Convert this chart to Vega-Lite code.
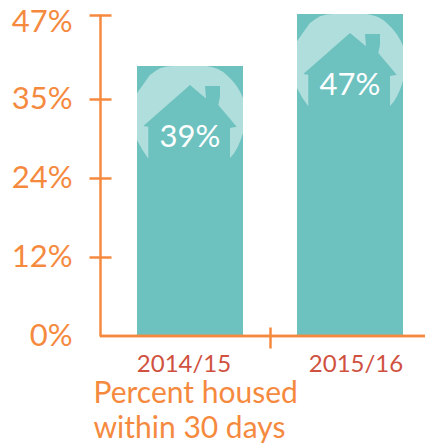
{"$schema":"https://vega.github.io/schema/vega-lite/v6.json","autosize":{"type":"none"},"padding":{"left":100,"top":14,"right":0,"bottom":109},"width":325,"height":322,"background":"white","view":{"stroke":null},"data":{"values":[{"period":"2014/15","value":39.4,"label":"39%"},{"period":"2015/16","value":47,"label":"47%"}]},"resolve":{"axis":{"x":"independent","y":"independent"}},"layer":[{"mark":{"type":"bar","color":"#6DC2BF"},"encoding":{"x":{"field":"period","type":"nominal","sort":null,"scale":{"type":"band","range":[10,330],"paddingInner":0.3375,"paddingOuter":0.16875},"axis":{"orient":"bottom","domain":false,"ticks":false,"labelAngle":0,"labelFont":"Lato","labelFontSize":24,"labelColor":"#D0513F","labelPadding":16,"labelBaseline":"top","labelOffset":{"condition":{"test":"datum.value=='2014/15'","value":-6},"value":6},"title":["Percent housed","within 30 days"],"titleFont":"Lato","titleFontSize":30,"titleFontWeight":"normal","titleColor":"#F58A3F","titleAlign":"left","titleAnchor":"start","titleBaseline":"alphabetic","titleLineHeight":35,"titleX":-7,"titleY":66}},"y":{"field":"value","type":"quantitative","scale":{"domain":[0,47],"nice":false,"zero":true},"axis":{"orient":"left","title":null,"grid":false,"domain":true,"domainColor":"#F58A3F","domainWidth":2.5,"ticks":false,"values":[0,11.55,23.1,34.6,46.85],"labelExpr":"ceil(datum.value)+'%'","labelFont":"Lato","labelFontSize":31,"labelColor":"#F58A3F","labelPadding":28,"labelFlush":false,"labelOverlap":false,"labelOffset":{"condition":[{"test":"datum.value>46","value":7},{"test":"datum.value>0","value":1}],"value":0}}}}},{"mark":{"type":"point","filled":true,"color":"#B0DEDC","opacity":1,"size":11236,"shape":"M-0.566 0.043 Q-0.45 0 -0.315 0 L0.315 0 Q0.55 0.03 0.692 0.17 Q0.9 0.35 1 0.604 L1 1.264 Q0.9 1.6 0.755 1.736 L0.755 1.17 L0.881 1.145 L0.534 0.736 L0.566 0.58 L0.566 0.377 L0.283 0.377 L0.302 0.61 L0 0.358 L-0.881 1.132 L-0.787 1.145 L-0.787 1.742 Q-0.9 1.6 -1 1.396 L-1 0.515 Q-0.85 0.3 -0.755 0.17 Q-0.65 0.09 -0.566 0.043 Z"},"encoding":{"x":{"field":"period","type":"nominal","sort":null,"axis":{"orient":"bottom","values":["2015/16"],"labels":false,"domain":false,"ticks":true,"tickColor":"#F58A3F","tickWidth":2.5,"tickSize":21,"tickOffset":-80,"offset":-9,"title":null}},"y":{"field":"value","type":"quantitative","axis":{"orient":"left","values":[11.55,23.1,34.6,46.85],"labels":false,"domain":false,"ticks":true,"tickColor":"#F58A3F","tickWidth":2.5,"tickSize":22,"offset":-11,"title":null,"grid":false}}}},{"mark":{"type":"rule","color":"#F58A3F","strokeWidth":2.5},"encoding":{"y":{"datum":0,"axis":null}}},{"mark":{"type":"text","color":"white","font":"Lato","fontSize":31,"baseline":"middle","dy":72},"encoding":{"x":{"field":"period","type":"nominal","sort":null,"axis":null},"y":{"field":"value","type":"quantitative","axis":null},"text":{"field":"label","type":"nominal"}}}]}
